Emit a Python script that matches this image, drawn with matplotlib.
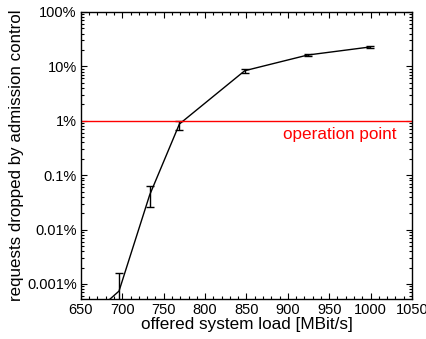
import numpy as np
import matplotlib
matplotlib.use('Agg')
import matplotlib.pyplot as plt
from matplotlib.ticker import FixedLocator, FixedFormatter, LogLocator, MultipleLocator, NullFormatter

# Offered load [MBit/s] and share of requests dropped [%]
load = [680, 696, 733, 769, 848, 924, 999]
dropped = [0.00045, 0.00074, 0.043, 0.87, 8.3, 16.1, 22.6]

# error ranges for the measured points (all but the first)
err_low = [0.0002, 0.0265, 0.67, 7.6, 15.7, 22.1]
err_high = [0.0016, 0.0625, 1.0, 8.8, 16.5, 23.1]

operation_point = 1.0  # percent
ytick_vals = [0.001, 0.01, 0.1, 1, 10, 100]
ytick_labels = ['0.001%', '0.01%', '0.1%', '1%', '10%', '100%']

plt.rcParams['font.family'] = ['Liberation Sans', 'DejaVu Sans']

fig = plt.figure(figsize=(4.26, 3.39), dpi=100)
ax = fig.add_axes([0.190, 0.118, 0.777, 0.847])

ax.plot(load, dropped, color='black', lw=1.0)
mid = np.array(dropped[1:])
yerr = [mid - np.array(err_low), np.array(err_high) - mid]
ax.errorbar(load[1:], mid, yerr=yerr, fmt='none', ecolor='black', elinewidth=1.0,
            capsize=3, capthick=1.0)
ax.axhline(operation_point, color='#ff0000', lw=1.0)
ax.text(1031, 0.565, 'operation point', color='#ff0000', fontsize=12.3,
        ha='right', va='center')

ax.set_yscale('log')
ax.set_xlim(650, 1050)
ax.set_ylim(10 ** -3.276, 100)

ax.xaxis.set_major_locator(MultipleLocator(50))
ax.xaxis.set_minor_locator(MultipleLocator(10))
ax.yaxis.set_major_locator(FixedLocator(ytick_vals))
ax.yaxis.set_major_formatter(FixedFormatter(ytick_labels))
ax.yaxis.set_minor_locator(LogLocator(base=10, subs=np.arange(2, 10)))
ax.yaxis.set_minor_formatter(NullFormatter())

ax.tick_params(which='both', direction='in', top=True, right=True, labelsize=10.5, pad=3)
ax.tick_params(which='major', length=4.5, width=0.8)
ax.tick_params(which='minor', length=2.2, width=0.8)
for s in ax.spines.values():
    s.set_linewidth(1.0)

ax.set_xlabel('offered system load [MBit/s]', fontsize=12.3, labelpad=0)
ax.set_ylabel('requests dropped by admission control', fontsize=12.2, labelpad=2)

fig.savefig('out.png', dpi=100)
